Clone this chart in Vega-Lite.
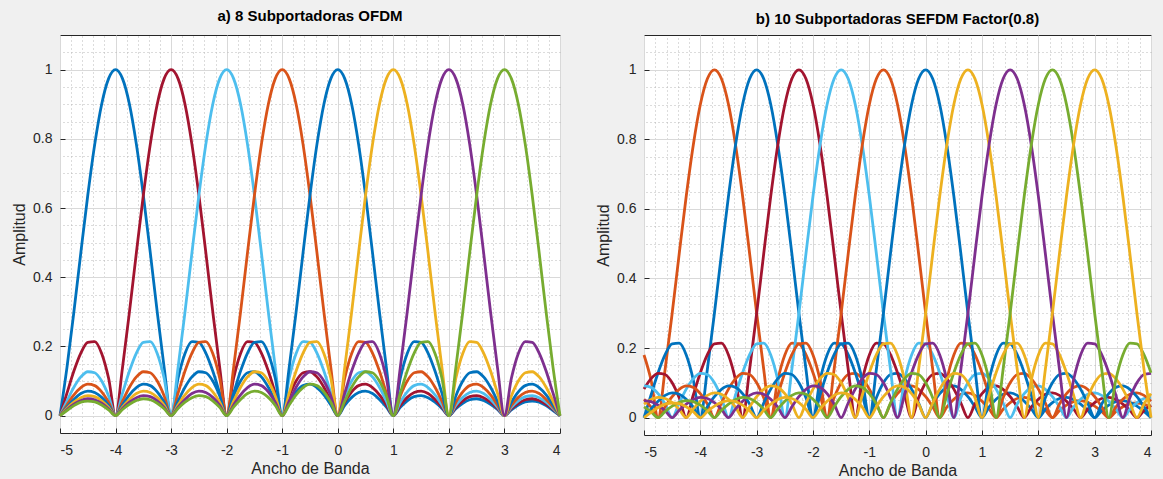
{
"$schema":"https://vega.github.io/schema/vega-lite/v6.json",
"background":"#f0f0f0",
"padding":{"left":11,"top":8,"right":5,"bottom":0},
"spacing":28,
"config":{
 "view":{"fill":"white","stroke":"#262626","strokeWidth":1},
 "axis":{"labelFont":"Liberation Sans","labelFontSize":14,"labelColor":"#262626","titleFont":"Liberation Sans","titleFontSize":16,"titleFontWeight":"normal","titleColor":"#262626","gridColor":"#d9d9d9","domain":false,"tickColor":"#262626","tickSize":-5,"labelPadding":13},
 "title":{"font":"Liberation Sans","fontSize":15,"fontWeight":"bold","color":"#000000","frame":"group"},
 "line":{"strokeWidth":2.8,"interpolate":"monotone"}
},
"resolve":{"scale":{"color":"independent"}},
"datasets":{
"A":[
{"x":-5,"a1":0,"a2":0,"a3":0,"a4":0,"a5":0,"a6":0,"a7":0,"a8":0},
{"x":-4.875,"a1":0.139,"a2":0.065,"a3":0.042,"a4":0.031,"a5":0.025,"a6":0.021,"a7":0.018,"a8":0.015},
{"x":-4.75,"a1":0.3,"a2":0.129,"a3":0.082,"a4":0.06,"a5":0.047,"a6":0.039,"a7":0.033,"a8":0.029},
{"x":-4.625,"a1":0.471,"a2":0.181,"a3":0.112,"a4":0.081,"a5":0.064,"a6":0.052,"a7":0.044,"a8":0.039},
{"x":-4.5,"a1":0.637,"a2":0.212,"a3":0.127,"a4":0.091,"a5":0.071,"a6":0.058,"a7":0.049,"a8":0.042},
{"x":-4.375,"a1":0.784,"a2":0.214,"a3":0.124,"a4":0.087,"a5":0.067,"a6":0.055,"a7":0.046,"a8":0.04},
{"x":-4.25,"a1":0.9,"a2":0.18,"a3":0.1,"a4":0.069,"a5":0.053,"a6":0.043,"a7":0.036,"a8":0.031},
{"x":-4.125,"a1":0.974,"a2":0.108,"a3":0.057,"a4":0.039,"a5":0.03,"a6":0.024,"a7":0.02,"a8":0.017},
{"x":-4,"a1":1,"a2":0,"a3":0,"a4":0,"a5":0,"a6":0,"a7":0,"a8":0},
{"x":-3.875,"a1":0.974,"a2":0.139,"a3":0.065,"a4":0.042,"a5":0.031,"a6":0.025,"a7":0.021,"a8":0.018},
{"x":-3.75,"a1":0.9,"a2":0.3,"a3":0.129,"a4":0.082,"a5":0.06,"a6":0.047,"a7":0.039,"a8":0.033},
{"x":-3.625,"a1":0.784,"a2":0.471,"a3":0.181,"a4":0.112,"a5":0.081,"a6":0.064,"a7":0.052,"a8":0.044},
{"x":-3.5,"a1":0.637,"a2":0.637,"a3":0.212,"a4":0.127,"a5":0.091,"a6":0.071,"a7":0.058,"a8":0.049},
{"x":-3.375,"a1":0.471,"a2":0.784,"a3":0.214,"a4":0.124,"a5":0.087,"a6":0.067,"a7":0.055,"a8":0.046},
{"x":-3.25,"a1":0.3,"a2":0.9,"a3":0.18,"a4":0.1,"a5":0.069,"a6":0.053,"a7":0.043,"a8":0.036},
{"x":-3.125,"a1":0.139,"a2":0.974,"a3":0.108,"a4":0.057,"a5":0.039,"a6":0.03,"a7":0.024,"a8":0.02},
{"x":-3,"a1":0,"a2":1,"a3":0,"a4":0,"a5":0,"a6":0,"a7":0,"a8":0},
{"x":-2.875,"a1":0.108,"a2":0.974,"a3":0.139,"a4":0.065,"a5":0.042,"a6":0.031,"a7":0.025,"a8":0.021},
{"x":-2.75,"a1":0.18,"a2":0.9,"a3":0.3,"a4":0.129,"a5":0.082,"a6":0.06,"a7":0.047,"a8":0.039},
{"x":-2.625,"a1":0.214,"a2":0.784,"a3":0.471,"a4":0.181,"a5":0.112,"a6":0.081,"a7":0.064,"a8":0.052},
{"x":-2.5,"a1":0.212,"a2":0.637,"a3":0.637,"a4":0.212,"a5":0.127,"a6":0.091,"a7":0.071,"a8":0.058},
{"x":-2.375,"a1":0.181,"a2":0.471,"a3":0.784,"a4":0.214,"a5":0.124,"a6":0.087,"a7":0.067,"a8":0.055},
{"x":-2.25,"a1":0.129,"a2":0.3,"a3":0.9,"a4":0.18,"a5":0.1,"a6":0.069,"a7":0.053,"a8":0.043},
{"x":-2.125,"a1":0.065,"a2":0.139,"a3":0.974,"a4":0.108,"a5":0.057,"a6":0.039,"a7":0.03,"a8":0.024},
{"x":-2,"a1":0,"a2":0,"a3":1,"a4":0,"a5":0,"a6":0,"a7":0,"a8":0},
{"x":-1.875,"a1":0.057,"a2":0.108,"a3":0.974,"a4":0.139,"a5":0.065,"a6":0.042,"a7":0.031,"a8":0.025},
{"x":-1.75,"a1":0.1,"a2":0.18,"a3":0.9,"a4":0.3,"a5":0.129,"a6":0.082,"a7":0.06,"a8":0.047},
{"x":-1.625,"a1":0.124,"a2":0.214,"a3":0.784,"a4":0.471,"a5":0.181,"a6":0.112,"a7":0.081,"a8":0.064},
{"x":-1.5,"a1":0.127,"a2":0.212,"a3":0.637,"a4":0.637,"a5":0.212,"a6":0.127,"a7":0.091,"a8":0.071},
{"x":-1.375,"a1":0.112,"a2":0.181,"a3":0.471,"a4":0.784,"a5":0.214,"a6":0.124,"a7":0.087,"a8":0.067},
{"x":-1.25,"a1":0.082,"a2":0.129,"a3":0.3,"a4":0.9,"a5":0.18,"a6":0.1,"a7":0.069,"a8":0.053},
{"x":-1.125,"a1":0.042,"a2":0.065,"a3":0.139,"a4":0.974,"a5":0.108,"a6":0.057,"a7":0.039,"a8":0.03},
{"x":-1,"a1":0,"a2":0,"a3":0,"a4":1,"a5":0,"a6":0,"a7":0,"a8":0},
{"x":-0.875,"a1":0.039,"a2":0.057,"a3":0.108,"a4":0.974,"a5":0.139,"a6":0.065,"a7":0.042,"a8":0.031},
{"x":-0.75,"a1":0.069,"a2":0.1,"a3":0.18,"a4":0.9,"a5":0.3,"a6":0.129,"a7":0.082,"a8":0.06},
{"x":-0.625,"a1":0.087,"a2":0.124,"a3":0.214,"a4":0.784,"a5":0.471,"a6":0.181,"a7":0.112,"a8":0.081},
{"x":-0.5,"a1":0.091,"a2":0.127,"a3":0.212,"a4":0.637,"a5":0.637,"a6":0.212,"a7":0.127,"a8":0.091},
{"x":-0.375,"a1":0.081,"a2":0.112,"a3":0.181,"a4":0.471,"a5":0.784,"a6":0.214,"a7":0.124,"a8":0.087},
{"x":-0.25,"a1":0.06,"a2":0.082,"a3":0.129,"a4":0.3,"a5":0.9,"a6":0.18,"a7":0.1,"a8":0.069},
{"x":-0.125,"a1":0.031,"a2":0.042,"a3":0.065,"a4":0.139,"a5":0.974,"a6":0.108,"a7":0.057,"a8":0.039},
{"x":0,"a1":0,"a2":0,"a3":0,"a4":0,"a5":1,"a6":0,"a7":0,"a8":0},
{"x":0.125,"a1":0.03,"a2":0.039,"a3":0.057,"a4":0.108,"a5":0.974,"a6":0.139,"a7":0.065,"a8":0.042},
{"x":0.25,"a1":0.053,"a2":0.069,"a3":0.1,"a4":0.18,"a5":0.9,"a6":0.3,"a7":0.129,"a8":0.082},
{"x":0.375,"a1":0.067,"a2":0.087,"a3":0.124,"a4":0.214,"a5":0.784,"a6":0.471,"a7":0.181,"a8":0.112},
{"x":0.5,"a1":0.071,"a2":0.091,"a3":0.127,"a4":0.212,"a5":0.637,"a6":0.637,"a7":0.212,"a8":0.127},
{"x":0.625,"a1":0.064,"a2":0.081,"a3":0.112,"a4":0.181,"a5":0.471,"a6":0.784,"a7":0.214,"a8":0.124},
{"x":0.75,"a1":0.047,"a2":0.06,"a3":0.082,"a4":0.129,"a5":0.3,"a6":0.9,"a7":0.18,"a8":0.1},
{"x":0.875,"a1":0.025,"a2":0.031,"a3":0.042,"a4":0.065,"a5":0.139,"a6":0.974,"a7":0.108,"a8":0.057},
{"x":1,"a1":0,"a2":0,"a3":0,"a4":0,"a5":0,"a6":1,"a7":0,"a8":0},
{"x":1.125,"a1":0.024,"a2":0.03,"a3":0.039,"a4":0.057,"a5":0.108,"a6":0.974,"a7":0.139,"a8":0.065},
{"x":1.25,"a1":0.043,"a2":0.053,"a3":0.069,"a4":0.1,"a5":0.18,"a6":0.9,"a7":0.3,"a8":0.129},
{"x":1.375,"a1":0.055,"a2":0.067,"a3":0.087,"a4":0.124,"a5":0.214,"a6":0.784,"a7":0.471,"a8":0.181},
{"x":1.5,"a1":0.058,"a2":0.071,"a3":0.091,"a4":0.127,"a5":0.212,"a6":0.637,"a7":0.637,"a8":0.212},
{"x":1.625,"a1":0.052,"a2":0.064,"a3":0.081,"a4":0.112,"a5":0.181,"a6":0.471,"a7":0.784,"a8":0.214},
{"x":1.75,"a1":0.039,"a2":0.047,"a3":0.06,"a4":0.082,"a5":0.129,"a6":0.3,"a7":0.9,"a8":0.18},
{"x":1.875,"a1":0.021,"a2":0.025,"a3":0.031,"a4":0.042,"a5":0.065,"a6":0.139,"a7":0.974,"a8":0.108},
{"x":2,"a1":0,"a2":0,"a3":0,"a4":0,"a5":0,"a6":0,"a7":1,"a8":0},
{"x":2.125,"a1":0.02,"a2":0.024,"a3":0.03,"a4":0.039,"a5":0.057,"a6":0.108,"a7":0.974,"a8":0.139},
{"x":2.25,"a1":0.036,"a2":0.043,"a3":0.053,"a4":0.069,"a5":0.1,"a6":0.18,"a7":0.9,"a8":0.3},
{"x":2.375,"a1":0.046,"a2":0.055,"a3":0.067,"a4":0.087,"a5":0.124,"a6":0.214,"a7":0.784,"a8":0.471},
{"x":2.5,"a1":0.049,"a2":0.058,"a3":0.071,"a4":0.091,"a5":0.127,"a6":0.212,"a7":0.637,"a8":0.637},
{"x":2.625,"a1":0.044,"a2":0.052,"a3":0.064,"a4":0.081,"a5":0.112,"a6":0.181,"a7":0.471,"a8":0.784},
{"x":2.75,"a1":0.033,"a2":0.039,"a3":0.047,"a4":0.06,"a5":0.082,"a6":0.129,"a7":0.3,"a8":0.9},
{"x":2.875,"a1":0.018,"a2":0.021,"a3":0.025,"a4":0.031,"a5":0.042,"a6":0.065,"a7":0.139,"a8":0.974},
{"x":3,"a1":0,"a2":0,"a3":0,"a4":0,"a5":0,"a6":0,"a7":0,"a8":1},
{"x":3.125,"a1":0.017,"a2":0.02,"a3":0.024,"a4":0.03,"a5":0.039,"a6":0.057,"a7":0.108,"a8":0.974},
{"x":3.25,"a1":0.031,"a2":0.036,"a3":0.043,"a4":0.053,"a5":0.069,"a6":0.1,"a7":0.18,"a8":0.9},
{"x":3.375,"a1":0.04,"a2":0.046,"a3":0.055,"a4":0.067,"a5":0.087,"a6":0.124,"a7":0.214,"a8":0.784},
{"x":3.5,"a1":0.042,"a2":0.049,"a3":0.058,"a4":0.071,"a5":0.091,"a6":0.127,"a7":0.212,"a8":0.637},
{"x":3.625,"a1":0.039,"a2":0.044,"a3":0.052,"a4":0.064,"a5":0.081,"a6":0.112,"a7":0.181,"a8":0.471},
{"x":3.75,"a1":0.029,"a2":0.033,"a3":0.039,"a4":0.047,"a5":0.06,"a6":0.082,"a7":0.129,"a8":0.3},
{"x":3.875,"a1":0.015,"a2":0.018,"a3":0.021,"a4":0.025,"a5":0.031,"a6":0.042,"a7":0.065,"a8":0.139},
{"x":4,"a1":0,"a2":0,"a3":0,"a4":0,"a5":0,"a6":0,"a7":0,"a8":0}
],
"B":[
{"x":-5,"b1":0.18,"b2":0,"b3":0.082,"b4":0.091,"b5":0.053,"b6":0,"b7":0.039,"b8":0.049,"b9":0.031,"b10":0},
{"x":-4.875,"b1":0.108,"b2":0.065,"b3":0.112,"b4":0.087,"b5":0.03,"b6":0.025,"b7":0.052,"b8":0.046,"b9":0.017,"b10":0.015},
{"x":-4.75,"b1":0,"b2":0.129,"b3":0.127,"b4":0.069,"b5":0,"b6":0.047,"b7":0.058,"b8":0.036,"b9":0,"b10":0.029},
{"x":-4.625,"b1":0.139,"b2":0.181,"b3":0.124,"b4":0.039,"b5":0.031,"b6":0.064,"b7":0.055,"b8":0.02,"b9":0.018,"b10":0.039},
{"x":-4.5,"b1":0.3,"b2":0.212,"b3":0.1,"b4":0,"b5":0.06,"b6":0.071,"b7":0.043,"b8":0,"b9":0.033,"b10":0.042},
{"x":-4.375,"b1":0.471,"b2":0.214,"b3":0.057,"b4":0.042,"b5":0.081,"b6":0.067,"b7":0.024,"b8":0.021,"b9":0.044,"b10":0.04},
{"x":-4.25,"b1":0.637,"b2":0.18,"b3":0,"b4":0.082,"b5":0.091,"b6":0.053,"b7":0,"b8":0.039,"b9":0.049,"b10":0.031},
{"x":-4.125,"b1":0.784,"b2":0.108,"b3":0.065,"b4":0.112,"b5":0.087,"b6":0.03,"b7":0.025,"b8":0.052,"b9":0.046,"b10":0.017},
{"x":-4,"b1":0.9,"b2":0,"b3":0.129,"b4":0.127,"b5":0.069,"b6":0,"b7":0.047,"b8":0.058,"b9":0.036,"b10":0},
{"x":-3.875,"b1":0.974,"b2":0.139,"b3":0.181,"b4":0.124,"b5":0.039,"b6":0.031,"b7":0.064,"b8":0.055,"b9":0.02,"b10":0.018},
{"x":-3.75,"b1":1,"b2":0.3,"b3":0.212,"b4":0.1,"b5":0,"b6":0.06,"b7":0.071,"b8":0.043,"b9":0,"b10":0.033},
{"x":-3.625,"b1":0.974,"b2":0.471,"b3":0.214,"b4":0.057,"b5":0.042,"b6":0.081,"b7":0.067,"b8":0.024,"b9":0.021,"b10":0.044},
{"x":-3.5,"b1":0.9,"b2":0.637,"b3":0.18,"b4":0,"b5":0.082,"b6":0.091,"b7":0.053,"b8":0,"b9":0.039,"b10":0.049},
{"x":-3.375,"b1":0.784,"b2":0.784,"b3":0.108,"b4":0.065,"b5":0.112,"b6":0.087,"b7":0.03,"b8":0.025,"b9":0.052,"b10":0.046},
{"x":-3.25,"b1":0.637,"b2":0.9,"b3":0,"b4":0.129,"b5":0.127,"b6":0.069,"b7":0,"b8":0.047,"b9":0.058,"b10":0.036},
{"x":-3.125,"b1":0.471,"b2":0.974,"b3":0.139,"b4":0.181,"b5":0.124,"b6":0.039,"b7":0.031,"b8":0.064,"b9":0.055,"b10":0.02},
{"x":-3,"b1":0.3,"b2":1,"b3":0.3,"b4":0.212,"b5":0.1,"b6":0,"b7":0.06,"b8":0.071,"b9":0.043,"b10":0},
{"x":-2.875,"b1":0.139,"b2":0.974,"b3":0.471,"b4":0.214,"b5":0.057,"b6":0.042,"b7":0.081,"b8":0.067,"b9":0.024,"b10":0.021},
{"x":-2.75,"b1":0,"b2":0.9,"b3":0.637,"b4":0.18,"b5":0,"b6":0.082,"b7":0.091,"b8":0.053,"b9":0,"b10":0.039},
{"x":-2.625,"b1":0.108,"b2":0.784,"b3":0.784,"b4":0.108,"b5":0.065,"b6":0.112,"b7":0.087,"b8":0.03,"b9":0.025,"b10":0.052},
{"x":-2.5,"b1":0.18,"b2":0.637,"b3":0.9,"b4":0,"b5":0.129,"b6":0.127,"b7":0.069,"b8":0,"b9":0.047,"b10":0.058},
{"x":-2.375,"b1":0.214,"b2":0.471,"b3":0.974,"b4":0.139,"b5":0.181,"b6":0.124,"b7":0.039,"b8":0.031,"b9":0.064,"b10":0.055},
{"x":-2.25,"b1":0.212,"b2":0.3,"b3":1,"b4":0.3,"b5":0.212,"b6":0.1,"b7":0,"b8":0.06,"b9":0.071,"b10":0.043},
{"x":-2.125,"b1":0.181,"b2":0.139,"b3":0.974,"b4":0.471,"b5":0.214,"b6":0.057,"b7":0.042,"b8":0.081,"b9":0.067,"b10":0.024},
{"x":-2,"b1":0.129,"b2":0,"b3":0.9,"b4":0.637,"b5":0.18,"b6":0,"b7":0.082,"b8":0.091,"b9":0.053,"b10":0},
{"x":-1.875,"b1":0.065,"b2":0.108,"b3":0.784,"b4":0.784,"b5":0.108,"b6":0.065,"b7":0.112,"b8":0.087,"b9":0.03,"b10":0.025},
{"x":-1.75,"b1":0,"b2":0.18,"b3":0.637,"b4":0.9,"b5":0,"b6":0.129,"b7":0.127,"b8":0.069,"b9":0,"b10":0.047},
{"x":-1.625,"b1":0.057,"b2":0.214,"b3":0.471,"b4":0.974,"b5":0.139,"b6":0.181,"b7":0.124,"b8":0.039,"b9":0.031,"b10":0.064},
{"x":-1.5,"b1":0.1,"b2":0.212,"b3":0.3,"b4":1,"b5":0.3,"b6":0.212,"b7":0.1,"b8":0,"b9":0.06,"b10":0.071},
{"x":-1.375,"b1":0.124,"b2":0.181,"b3":0.139,"b4":0.974,"b5":0.471,"b6":0.214,"b7":0.057,"b8":0.042,"b9":0.081,"b10":0.067},
{"x":-1.25,"b1":0.127,"b2":0.129,"b3":0,"b4":0.9,"b5":0.637,"b6":0.18,"b7":0,"b8":0.082,"b9":0.091,"b10":0.053},
{"x":-1.125,"b1":0.112,"b2":0.065,"b3":0.108,"b4":0.784,"b5":0.784,"b6":0.108,"b7":0.065,"b8":0.112,"b9":0.087,"b10":0.03},
{"x":-1,"b1":0.082,"b2":0,"b3":0.18,"b4":0.637,"b5":0.9,"b6":0,"b7":0.129,"b8":0.127,"b9":0.069,"b10":0},
{"x":-0.875,"b1":0.042,"b2":0.057,"b3":0.214,"b4":0.471,"b5":0.974,"b6":0.139,"b7":0.181,"b8":0.124,"b9":0.039,"b10":0.031},
{"x":-0.75,"b1":0,"b2":0.1,"b3":0.212,"b4":0.3,"b5":1,"b6":0.3,"b7":0.212,"b8":0.1,"b9":0,"b10":0.06},
{"x":-0.625,"b1":0.039,"b2":0.124,"b3":0.181,"b4":0.139,"b5":0.974,"b6":0.471,"b7":0.214,"b8":0.057,"b9":0.042,"b10":0.081},
{"x":-0.5,"b1":0.069,"b2":0.127,"b3":0.129,"b4":0,"b5":0.9,"b6":0.637,"b7":0.18,"b8":0,"b9":0.082,"b10":0.091},
{"x":-0.375,"b1":0.087,"b2":0.112,"b3":0.065,"b4":0.108,"b5":0.784,"b6":0.784,"b7":0.108,"b8":0.065,"b9":0.112,"b10":0.087},
{"x":-0.25,"b1":0.091,"b2":0.082,"b3":0,"b4":0.18,"b5":0.637,"b6":0.9,"b7":0,"b8":0.129,"b9":0.127,"b10":0.069},
{"x":-0.125,"b1":0.081,"b2":0.042,"b3":0.057,"b4":0.214,"b5":0.471,"b6":0.974,"b7":0.139,"b8":0.181,"b9":0.124,"b10":0.039},
{"x":0,"b1":0.06,"b2":0,"b3":0.1,"b4":0.212,"b5":0.3,"b6":1,"b7":0.3,"b8":0.212,"b9":0.1,"b10":0},
{"x":0.125,"b1":0.031,"b2":0.039,"b3":0.124,"b4":0.181,"b5":0.139,"b6":0.974,"b7":0.471,"b8":0.214,"b9":0.057,"b10":0.042},
{"x":0.25,"b1":0,"b2":0.069,"b3":0.127,"b4":0.129,"b5":0,"b6":0.9,"b7":0.637,"b8":0.18,"b9":0,"b10":0.082},
{"x":0.375,"b1":0.03,"b2":0.087,"b3":0.112,"b4":0.065,"b5":0.108,"b6":0.784,"b7":0.784,"b8":0.108,"b9":0.065,"b10":0.112},
{"x":0.5,"b1":0.053,"b2":0.091,"b3":0.082,"b4":0,"b5":0.18,"b6":0.637,"b7":0.9,"b8":0,"b9":0.129,"b10":0.127},
{"x":0.625,"b1":0.067,"b2":0.081,"b3":0.042,"b4":0.057,"b5":0.214,"b6":0.471,"b7":0.974,"b8":0.139,"b9":0.181,"b10":0.124},
{"x":0.75,"b1":0.071,"b2":0.06,"b3":0,"b4":0.1,"b5":0.212,"b6":0.3,"b7":1,"b8":0.3,"b9":0.212,"b10":0.1},
{"x":0.875,"b1":0.064,"b2":0.031,"b3":0.039,"b4":0.124,"b5":0.181,"b6":0.139,"b7":0.974,"b8":0.471,"b9":0.214,"b10":0.057},
{"x":1,"b1":0.047,"b2":0,"b3":0.069,"b4":0.127,"b5":0.129,"b6":0,"b7":0.9,"b8":0.637,"b9":0.18,"b10":0},
{"x":1.125,"b1":0.025,"b2":0.03,"b3":0.087,"b4":0.112,"b5":0.065,"b6":0.108,"b7":0.784,"b8":0.784,"b9":0.108,"b10":0.065},
{"x":1.25,"b1":0,"b2":0.053,"b3":0.091,"b4":0.082,"b5":0,"b6":0.18,"b7":0.637,"b8":0.9,"b9":0,"b10":0.129},
{"x":1.375,"b1":0.024,"b2":0.067,"b3":0.081,"b4":0.042,"b5":0.057,"b6":0.214,"b7":0.471,"b8":0.974,"b9":0.139,"b10":0.181},
{"x":1.5,"b1":0.043,"b2":0.071,"b3":0.06,"b4":0,"b5":0.1,"b6":0.212,"b7":0.3,"b8":1,"b9":0.3,"b10":0.212},
{"x":1.625,"b1":0.055,"b2":0.064,"b3":0.031,"b4":0.039,"b5":0.124,"b6":0.181,"b7":0.139,"b8":0.974,"b9":0.471,"b10":0.214},
{"x":1.75,"b1":0.058,"b2":0.047,"b3":0,"b4":0.069,"b5":0.127,"b6":0.129,"b7":0,"b8":0.9,"b9":0.637,"b10":0.18},
{"x":1.875,"b1":0.052,"b2":0.025,"b3":0.03,"b4":0.087,"b5":0.112,"b6":0.065,"b7":0.108,"b8":0.784,"b9":0.784,"b10":0.108},
{"x":2,"b1":0.039,"b2":0,"b3":0.053,"b4":0.091,"b5":0.082,"b6":0,"b7":0.18,"b8":0.637,"b9":0.9,"b10":0},
{"x":2.125,"b1":0.021,"b2":0.024,"b3":0.067,"b4":0.081,"b5":0.042,"b6":0.057,"b7":0.214,"b8":0.471,"b9":0.974,"b10":0.139},
{"x":2.25,"b1":0,"b2":0.043,"b3":0.071,"b4":0.06,"b5":0,"b6":0.1,"b7":0.212,"b8":0.3,"b9":1,"b10":0.3},
{"x":2.375,"b1":0.02,"b2":0.055,"b3":0.064,"b4":0.031,"b5":0.039,"b6":0.124,"b7":0.181,"b8":0.139,"b9":0.974,"b10":0.471},
{"x":2.5,"b1":0.036,"b2":0.058,"b3":0.047,"b4":0,"b5":0.069,"b6":0.127,"b7":0.129,"b8":0,"b9":0.9,"b10":0.637},
{"x":2.625,"b1":0.046,"b2":0.052,"b3":0.025,"b4":0.03,"b5":0.087,"b6":0.112,"b7":0.065,"b8":0.108,"b9":0.784,"b10":0.784},
{"x":2.75,"b1":0.049,"b2":0.039,"b3":0,"b4":0.053,"b5":0.091,"b6":0.082,"b7":0,"b8":0.18,"b9":0.637,"b10":0.9},
{"x":2.875,"b1":0.044,"b2":0.021,"b3":0.024,"b4":0.067,"b5":0.081,"b6":0.042,"b7":0.057,"b8":0.214,"b9":0.471,"b10":0.974},
{"x":3,"b1":0.033,"b2":0,"b3":0.043,"b4":0.071,"b5":0.06,"b6":0,"b7":0.1,"b8":0.212,"b9":0.3,"b10":1},
{"x":3.125,"b1":0.018,"b2":0.02,"b3":0.055,"b4":0.064,"b5":0.031,"b6":0.039,"b7":0.124,"b8":0.181,"b9":0.139,"b10":0.974},
{"x":3.25,"b1":0,"b2":0.036,"b3":0.058,"b4":0.047,"b5":0,"b6":0.069,"b7":0.127,"b8":0.129,"b9":0,"b10":0.9},
{"x":3.375,"b1":0.017,"b2":0.046,"b3":0.052,"b4":0.025,"b5":0.03,"b6":0.087,"b7":0.112,"b8":0.065,"b9":0.108,"b10":0.784},
{"x":3.5,"b1":0.031,"b2":0.049,"b3":0.039,"b4":0,"b5":0.053,"b6":0.091,"b7":0.082,"b8":0,"b9":0.18,"b10":0.637},
{"x":3.625,"b1":0.04,"b2":0.044,"b3":0.021,"b4":0.024,"b5":0.067,"b6":0.081,"b7":0.042,"b8":0.057,"b9":0.214,"b10":0.471},
{"x":3.75,"b1":0.042,"b2":0.033,"b3":0,"b4":0.043,"b5":0.071,"b6":0.06,"b7":0,"b8":0.1,"b9":0.212,"b10":0.3},
{"x":3.875,"b1":0.039,"b2":0.018,"b3":0.02,"b4":0.055,"b5":0.064,"b6":0.031,"b7":0.039,"b8":0.124,"b9":0.181,"b10":0.139},
{"x":4,"b1":0.029,"b2":0,"b3":0.036,"b4":0.058,"b5":0.047,"b6":0,"b7":0.069,"b8":0.127,"b9":0.129,"b10":0}
]
},
"hconcat":[
{
 "width":500,"height":398,
 "title":{"text":"a) 8 Subportadoras OFDM","offset":11},
 "data":{"name":"A"},
 "transform":[{"fold":["a1","a2","a3","a4","a5","a6","a7","a8"],"as":["s","y"]}],
 "layer":[
  {"mark":{"type":"line","strokeOpacity":0},
   "encoding":{
    "x":{"field":"x","type":"quantitative","scale":{"domain":[-5,4],"nice":false,"zero":false},
      "axis":{"orient":"top","labels":false,"ticks":false,"domain":false,"title":null,"grid":true,"gridDash":[1,3],"gridColor":"#b8b8b8",
      "values":[-4.8,-4.6,-4.4,-4.2,-3.8,-3.6,-3.4,-3.2,-2.8,-2.6,-2.4,-2.2,-1.8,-1.6,-1.4,-1.2,-0.8,-0.6,-0.4,-0.2,0.2,0.4,0.6,0.8,1.2,1.4,1.6,1.8,2.2,2.4,2.6,2.8,3.2,3.4,3.6,3.8]}},
    "y":{"field":"y","type":"quantitative","scale":{"domain":[-0.05,1.1],"nice":false,"zero":false},
      "axis":{"orient":"right","labels":false,"ticks":false,"domain":false,"title":null,"grid":true,"gridDash":[1,3],"gridColor":"#b8b8b8",
      "values":[0.05,0.1,0.15,0.25,0.3,0.35,0.45,0.5,0.55,0.65,0.7,0.75,0.85,0.9,0.95,1.05]}},
    "detail":{"field":"s"}
   }},
  {"mark":{"type":"line"},
   "encoding":{
    "x":{"field":"x","type":"quantitative","axis":{"title":"Ancho de Banda","values":[-5,-4,-3,-2,-1,0,1,2,3,4],"labelExpr":"replace(datum.label,'\u2212','-')","grid":true,"labelPadding":15,"titlePadding":3}},
    "y":{"field":"y","type":"quantitative","axis":{"title":"Amplitud","values":[0,0.2,0.4,0.6,0.8,1],"format":"~g","grid":true,"titlePadding":5}},
    "color":{"field":"s","type":"nominal","legend":null,"scale":{"domain":["a1","a2","a3","a4","a5","a6","a7","a8"],"range":["#0072BD","#A2142F","#4DBEEE","#D95319","#0072BD","#EDB120","#7E2F8E","#77AC30"]}}
   }}
 ],
 "resolve":{"axis":{"x":"independent","y":"independent"}}
},
{
 "width":507,"height":400,
 "title":{"text":"b) 10 Subportadoras SEFDM Factor(0.8)","offset":8},
 "data":{"name":"B"},
 "transform":[{"fold":["b1","b2","b3","b4","b5","b6","b7","b8","b9","b10"],"as":["s","y"]}],
 "layer":[
  {"mark":{"type":"line","strokeOpacity":0},
   "encoding":{
    "x":{"field":"x","type":"quantitative","scale":{"domain":[-5,4],"nice":false,"zero":false},
      "axis":{"orient":"top","labels":false,"ticks":false,"domain":false,"title":null,"grid":true,"gridDash":[1,3],"gridColor":"#b8b8b8",
      "values":[-4.8,-4.6,-4.4,-4.2,-3.8,-3.6,-3.4,-3.2,-2.8,-2.6,-2.4,-2.2,-1.8,-1.6,-1.4,-1.2,-0.8,-0.6,-0.4,-0.2,0.2,0.4,0.6,0.8,1.2,1.4,1.6,1.8,2.2,2.4,2.6,2.8,3.2,3.4,3.6,3.8]}},
    "y":{"field":"y","type":"quantitative","scale":{"domain":[-0.05,1.1],"nice":false,"zero":false},
      "axis":{"orient":"right","labels":false,"ticks":false,"domain":false,"title":null,"grid":true,"gridDash":[1,3],"gridColor":"#b8b8b8",
      "values":[0.05,0.1,0.15,0.25,0.3,0.35,0.45,0.5,0.55,0.65,0.7,0.75,0.85,0.9,0.95,1.05]}},
    "detail":{"field":"s"}
   }},
  {"mark":{"type":"line"},
   "encoding":{
    "x":{"field":"x","type":"quantitative","axis":{"title":"Ancho de Banda","values":[-5,-4,-3,-2,-1,0,1,2,3,4],"labelExpr":"replace(datum.label,'\u2212','-')","grid":true,"labelPadding":15,"titlePadding":3}},
    "y":{"field":"y","type":"quantitative","axis":{"title":"Amplitud","values":[0,0.2,0.4,0.6,0.8,1],"format":"~g","grid":true,"titlePadding":5}},
    "color":{"field":"s","type":"nominal","legend":null,"scale":{"domain":["b1","b2","b3","b4","b5","b6","b7","b8","b9","b10"],"range":["#D95319","#0072BD","#A2142F","#4DBEEE","#D95319","#0072BD","#EDB120","#7E2F8E","#77AC30","#EDB120"]}}
   }}
 ],
 "resolve":{"axis":{"x":"independent","y":"independent"}}
}
]
}
